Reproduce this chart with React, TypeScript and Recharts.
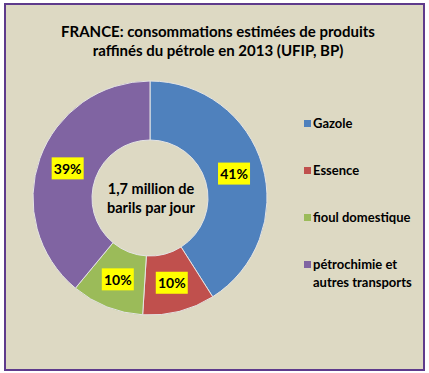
import React from 'react';
import { Pie, PieChart, Cell, Legend } from 'recharts';

const categories = ['Gazole', 'Essence', 'fioul domestique', 'pétrochimie et autres transports'];
const shares = [41, 10, 10, 39];
const colors = ['#4F81BD', '#C0504D', '#9BBB59', '#8064A2'];
const titleLines = [
  'FRANCE: consommations estimées de produits',
  'raffinés du pétrole en 2013 (UFIP, BP)',
];
const centerLines = ['1,7 million de', 'barils par jour'];

const data = categories.map((name, i) => ({ name, value: shares[i] }));

const FONT = 'Lato, "Liberation Sans", sans-serif';
const RADIAN = Math.PI / 180;

const renderLabel = (props: any) => {
  const { cx, cy, midAngle, innerRadius, outerRadius, value } = props;
  const r = (innerRadius + outerRadius) / 2;
  const x = cx + r * Math.cos(-midAngle * RADIAN);
  const y = cy + r * Math.sin(-midAngle * RADIAN);
  return (
    <g>
      <rect x={x - 16} y={y - 11} width={32} height={22} fill="#FFFF00" />
      <text
        x={x}
        y={y}
        textAnchor="middle"
        dominantBaseline="central"
        fontFamily={FONT}
        fontWeight="bold"
        fontSize={14}
        fill="#000"
      >
        {value}%
      </text>
    </g>
  );
};

const renderLegend = () => (
  <div style={{ fontFamily: FONT, fontWeight: 'bold', fontSize: 13, color: '#000' }}>
    {categories.map((c, i) => {
      const lines = i === 3 ? ['pétrochimie et', 'autres transports'] : [c];
      return (
        <div key={c} style={{ display: 'flex', alignItems: 'flex-start', height: 47 }}>
          <span
            style={{
              display: 'inline-block',
              width: 7,
              height: 7,
              background: colors[i],
              marginTop: 6,
              marginRight: 2,
            }}
          />
          <span style={{ lineHeight: '18px' }}>
            {lines.map((l) => (
              <div key={l}>{l}</div>
            ))}
          </span>
        </div>
      );
    })}
  </div>
);

export default function App() {
  return (
    <div style={{ position: 'absolute', left: 0, top: 0, width: 429, height: 373, background: '#fff' }}>
      <div
        style={{
          position: 'absolute',
          left: 4,
          top: 3,
          width: 421,
          height: 368,
          boxSizing: 'border-box',
          border: '2px solid #5E3B8C',
          background: '#DDD9C3',
        }}
      />
      <div
        style={{
          position: 'absolute',
          left: 0,
          top: 22,
          width: 436,
          textAlign: 'center',
          fontFamily: FONT,
          fontWeight: 'bold',
          fontSize: 15,
          lineHeight: '19px',
          color: '#000',
        }}
      >
        {titleLines.map((l) => (
          <div key={l}>{l}</div>
        ))}
      </div>
      <PieChart
        width={429}
        height={373}
        margin={{ top: 0, right: 0, bottom: 0, left: 0 }}
        style={{ position: 'absolute', left: 0, top: 0 }}
      >
        <Pie
          data={data}
          dataKey="value"
          nameKey="name"
          cx={150}
          cy={198}
          innerRadius={58}
          outerRadius={117}
          startAngle={90}
          endAngle={-270}
          stroke="#E4E4E4"
          strokeWidth={1}
          label={renderLabel}
          labelLine={false}
          isAnimationActive={false}
        >
          {data.map((d, i) => (
            <Cell key={d.name} fill={colors[i]} />
          ))}
        </Pie>
        <text
          x={151}
          y={188}
          textAnchor="middle"
          dominantBaseline="central"
          fontFamily={FONT}
          fontWeight="bold"
          fontSize={14.5}
          fill="#000"
        >
          {centerLines[0]}
        </text>
        <text
          x={151}
          y={207}
          textAnchor="middle"
          dominantBaseline="central"
          fontFamily={FONT}
          fontWeight="bold"
          fontSize={14.5}
          fill="#000"
        >
          {centerLines[1]}
        </text>
        <Legend
          content={renderLegend}
          wrapperStyle={{ position: 'absolute', left: 304, top: 114, width: 124 }}
        />
      </PieChart>
    </div>
  );
}
